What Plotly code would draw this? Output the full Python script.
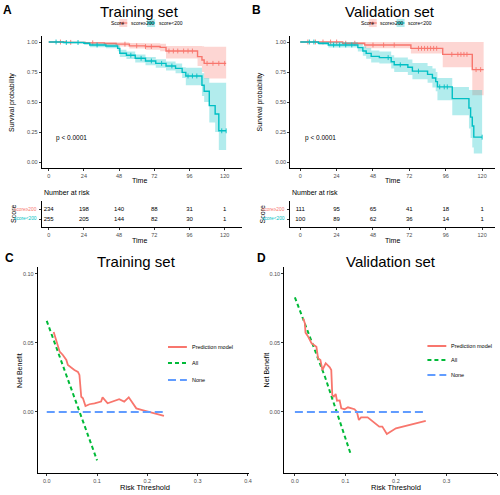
import plotly.graph_objects as go

W, H = 500, 495
def fx(p): return p / W
def fy(p): return 1 - p / H

RED = "#F8766D"; TEAL = "#00BFC4"
RED_F = "rgba(248,118,109,0.30)"; TEAL_F = "rgba(0,191,196,0.30)"
GREEN = "#00BA38"; BLUE = "#619CFF"
FONT = "Liberation Sans"

time_ticks = [0, 24, 48, 72, 96, 120]
surv_ticks = [0, 0.25, 0.5, 0.75, 1.0]
surv_ticktext = ["0.00", "0.25", "0.50", "0.75", "1.00"]
nb_ticks = [0, 0.05, 0.10]
nb_ticktext = ["0.00", "0.05", "0.10"]
thr_ticks = [0, 0.1, 0.2, 0.3, 0.4]
thr_ticktext = ["0.0", "0.1", "0.2", "0.3", "0.4"]
groups = ["score\u2265200", "score<200"]

# ---------- Training KM ----------
trA_hi_t = [0, 12, 25, 38, 46, 55, 66, 76, 80, 101.5, 104.5, 106, 121]
trA_hi_s = [1, 0.997, 0.993, 0.988, 0.982, 0.968, 0.962, 0.955, 0.925, 0.878, 0.85, 0.822, 0.822]
trA_hi_up = [1, 1, 1, 1, 0.998, 0.992, 0.99, 0.985, 0.967, 0.967, 0.965, 0.961, 0.961]
trA_hi_lo = [1, 0.99, 0.982, 0.972, 0.962, 0.945, 0.935, 0.922, 0.862, 0.80, 0.75, 0.695, 0.695]
trA_hi_cens = [8, 15, 30, 52, 60, 66, 70, 82, 85, 88, 92, 95, 98, 108, 112, 116, 120]

trA_lo_t = [0, 10, 24, 28, 39, 47, 48.5, 53, 59, 66, 73, 80, 86.5, 91, 93.5, 104.5, 106, 109.5, 113.5, 116, 121]
trA_lo_s = [1, 0.996, 0.989, 0.975, 0.967, 0.947, 0.906, 0.89, 0.864, 0.842, 0.822, 0.80, 0.78, 0.747, 0.717, 0.64, 0.59, 0.47, 0.40, 0.26, 0.26]
trA_lo_up = [1, 1, 0.998, 0.99, 0.985, 0.97, 0.935, 0.92, 0.895, 0.875, 0.857, 0.837, 0.82, 0.79, 0.785, 0.74, 0.70, 0.66, 0.66, 0.66, 0.66]
trA_lo_lo = [1, 0.99, 0.978, 0.957, 0.947, 0.922, 0.875, 0.858, 0.83, 0.807, 0.786, 0.762, 0.74, 0.70, 0.64, 0.55, 0.50, 0.33, 0.25, 0.10, 0.10]
trA_lo_cens = [5, 12, 20, 33, 56, 63, 70, 77, 84, 95, 98, 101, 118, 121]

risk_train_hi = [234, 198, 140, 88, 31, 1]
risk_train_lo = [255, 205, 144, 82, 30, 1]

# ---------- Validation KM ----------
vaB_hi_t = [0, 28, 42.5, 73, 94, 113.5, 121]
vaB_hi_s = [1, 0.99, 0.975, 0.947, 0.897, 0.77, 0.77]
vaB_hi_up = [1, 1, 1, 1, 1, 1, 1]
vaB_hi_lo = [1, 0.975, 0.947, 0.905, 0.79, 0.556, 0.556]
vaB_hi_cens = [5, 10, 15, 20, 24, 30, 36, 48, 55, 62, 78, 80, 82, 84, 86, 88, 90, 100, 104, 106, 108, 110, 116, 119]

vaB_lo_t = [0, 12, 18.5, 38, 41.3, 43.5, 46.8, 52.2, 60, 62, 71, 74, 84, 87.2, 89.4, 90.5, 100.3, 111.3, 112.4, 113.5, 114.5, 120]
vaB_lo_s = [1, 0.99, 0.975, 0.953, 0.925, 0.905, 0.88, 0.87, 0.835, 0.81, 0.79, 0.757, 0.73, 0.70, 0.67, 0.626, 0.528, 0.45, 0.374, 0.30, 0.207, 0.207]
vaB_lo_up = [1, 1, 1, 0.985, 0.965, 0.95, 0.93, 0.92, 0.89, 0.87, 0.855, 0.825, 0.80, 0.78, 0.75, 0.70, 0.626, 0.60, 0.60, 0.60, 0.60, 0.60]
vaB_lo_lo = [1, 0.975, 0.955, 0.92, 0.885, 0.86, 0.83, 0.82, 0.78, 0.75, 0.725, 0.69, 0.66, 0.62, 0.59, 0.515, 0.39, 0.28, 0.20, 0.12, 0.07, 0.07]
vaB_lo_cens = [6, 9, 22, 26, 30, 34, 58, 66, 78, 92, 95, 97, 120]

risk_val_hi = [111, 95, 65, 41, 18, 1]
risk_val_lo = [100, 89, 62, 36, 14, 1]

# ---------- DCA ----------
dcaC_thr = [0.0138, 0.019, 0.0257, 0.032, 0.039, 0.042, 0.049, 0.055, 0.062, 0.065, 0.0686, 0.072, 0.077, 0.085, 0.095, 0.1014, 0.108, 0.111, 0.121, 0.144, 0.154, 0.163, 0.178, 0.190, 0.233]
dcaC_model = [0.058, 0.051, 0.0437, 0.0413, 0.0377, 0.034, 0.0317, 0.0304, 0.029, 0.0268, 0.011, 0.0099, 0.0043, 0.0056, 0.0063, 0.007, 0.0075, 0.0106, 0.0063, 0.0092, 0.0075, 0.0106, 0.0026, 0.0014, -0.0029]
dcaC_all_thr = [0, 0.02, 0.04, 0.06, 0.08, 0.10]
dcaC_all = [0.066, 0.046, 0.026, 0.005, -0.015, -0.035]
dcaC_none_thr = [0, 0.233]
dcaC_none = [0, 0]

dcaD_thr = [0.0163, 0.0197, 0.021, 0.0262, 0.0328, 0.038, 0.0426, 0.0459, 0.0505, 0.0544, 0.057, 0.061, 0.069, 0.072, 0.074, 0.077, 0.0807, 0.0833, 0.0886, 0.0918, 0.0984, 0.105, 0.118, 0.1227, 0.1266, 0.131, 0.144, 0.167, 0.173, 0.182, 0.200, 0.259]
dcaD_model = [0.0679, 0.0643, 0.0575, 0.0546, 0.0498, 0.0486, 0.0473, 0.0389, 0.0377, 0.0304, 0.0328, 0.0353, 0.0324, 0.0304, 0.0123, 0.0111, 0.013, 0.0082, 0.0084, 0.0027, 0.002, 0.0034, 0.002, 0.0001, -0.0058, -0.0039, -0.0039, -0.0106, -0.0106, -0.0159, -0.0118, -0.0065]
dcaD_all_thr = [0, 0.02, 0.04, 0.06, 0.08, 0.10, 0.11]
dcaD_all = [0.083, 0.064, 0.045, 0.025, 0.003, -0.019, -0.030]
dcaD_none_thr = [0, 0.256]
dcaD_none = [0, 0]

fig = go.Figure()

def step_at(t, s, c):
    v = s[0]
    for ti, si in zip(t, s):
        if ti <= c:
            v = si
    return v

def km(xa, ya, t, s, up, lo, color, fillc, cens):
    fig.add_trace(go.Scatter(x=t, y=lo, xaxis=xa, yaxis=ya, mode="lines",
                             line=dict(width=0, shape="hv", color=fillc), showlegend=False, hoverinfo="skip"))
    fig.add_trace(go.Scatter(x=t, y=up, xaxis=xa, yaxis=ya, mode="lines", fill="tonexty", fillcolor=fillc,
                             line=dict(width=0, shape="hv", color=fillc), showlegend=False, hoverinfo="skip"))
    fig.add_trace(go.Scatter(x=t, y=s, xaxis=xa, yaxis=ya, mode="lines",
                             line=dict(width=1.4, shape="hv", color=color), showlegend=False))
    cy = [step_at(t, s, c) for c in cens]
    fig.add_trace(go.Scatter(x=cens, y=cy, xaxis=xa, yaxis=ya, mode="markers",
                             marker=dict(symbol="line-ns", size=3.5, line=dict(color=color, width=0.9)),
                             showlegend=False))

km("x", "y", trA_hi_t, trA_hi_s, trA_hi_up, trA_hi_lo, RED, RED_F, trA_hi_cens)
km("x", "y", trA_lo_t, trA_lo_s, trA_lo_up, trA_lo_lo, TEAL, TEAL_F, trA_lo_cens)
km("x3", "y3", vaB_hi_t, vaB_hi_s, vaB_hi_up, vaB_hi_lo, RED, RED_F, vaB_hi_cens)
km("x3", "y3", vaB_lo_t, vaB_lo_s, vaB_lo_up, vaB_lo_lo, TEAL, TEAL_F, vaB_lo_cens)

def risk(xa, ya, hi, lo):
    fig.add_trace(go.Scatter(x=time_ticks, y=[2] * len(hi), xaxis=xa, yaxis=ya, mode="text",
                             text=[str(v) for v in hi], textfont=dict(size=6, color="black", family=FONT),
                             showlegend=False))
    fig.add_trace(go.Scatter(x=time_ticks, y=[1] * len(lo), xaxis=xa, yaxis=ya, mode="text",
                             text=[str(v) for v in lo], textfont=dict(size=6, color="black", family=FONT),
                             showlegend=False))

risk("x2", "y2", risk_train_hi, risk_train_lo)
risk("x4", "y4", risk_val_hi, risk_val_lo)

def dca(xa, ya, thr, model, athr, aval, nthr, nval):
    fig.add_trace(go.Scatter(x=athr, y=aval, xaxis=xa, yaxis=ya, mode="lines",
                             line=dict(color=GREEN, width=2, dash="4px,3px"), showlegend=False))
    fig.add_trace(go.Scatter(x=thr, y=model, xaxis=xa, yaxis=ya, mode="lines",
                             line=dict(color=RED, width=1.8), showlegend=False))
    fig.add_trace(go.Scatter(x=nthr, y=nval, xaxis=xa, yaxis=ya, mode="lines",
                             line=dict(color=BLUE, width=2, dash="8px,4px"), showlegend=False))

dca("x5", "y5", dcaC_thr, dcaC_model, dcaC_all_thr, dcaC_all, dcaC_none_thr, dcaC_none)
dca("x6", "y6", dcaD_thr, dcaD_model, dcaD_all_thr, dcaD_all, dcaD_none_thr, dcaD_none)

ax_common = dict(showline=True, linecolor="black", linewidth=1, ticks="outside", ticklen=2,
                 tickcolor="#333", tickwidth=0.8, showgrid=False, zeroline=False,
                 tickfont=dict(size=5.5, color="#4D4D4D", family=FONT))

def xax(dom, rng, tv, tt, anchor):
    d = dict(ax_common); d.update(domain=[fx(dom[0]), fx(dom[1])], range=rng, tickvals=tv, ticktext=tt, anchor=anchor)
    return d
def yax(dom, rng, tv, tt, anchor, labels=True):
    d = dict(ax_common); d.update(domain=[fy(dom[1]), fy(dom[0])], range=rng, tickvals=tv, ticktext=tt,
                                  anchor=anchor, showticklabels=labels)
    return d

tt_time = [str(v) for v in time_ticks]
fig.update_layout(
    xaxis=xax((42, 243), [-4.75, 131.5], time_ticks, tt_time, "y"),
    yaxis=yax((36, 168), [-0.05, 1.05], surv_ticks, surv_ticktext, "x"),
    xaxis2=xax((42, 243), [-4.75, 131.5], time_ticks, tt_time, "y2"),
    yaxis2=yax((201, 227), [0.2, 2.8], [1, 2], ["", ""], "x2", False),
    xaxis3=xax((292, 498), [-6.6, 128.5], time_ticks, tt_time, "y3"),
    yaxis3=yax((36, 168), [-0.05, 1.05], surv_ticks, surv_ticktext, "x3"),
    xaxis4=xax((292, 498), [-6.6, 128.5], time_ticks, tt_time, "y4"),
    yaxis4=yax((201, 227), [0.2, 2.8], [1, 2], ["", ""], "x4", False),
    xaxis5=xax((38, 250), [-0.0178, 0.401], thr_ticks, thr_ticktext, "y5"),
    yaxis5=yax((267, 473), [-0.0442, 0.105], nb_ticks, nb_ticktext, "x5"),
    xaxis6=xax((286, 500), [-0.021, 0.400], thr_ticks, thr_ticktext, "y6"),
    yaxis6=yax((267, 473), [-0.0442, 0.105], nb_ticks, nb_ticktext, "x6"),
    width=W, height=H, margin=dict(l=0, r=0, t=0, b=0),
    paper_bgcolor="white", plot_bgcolor="white", showlegend=False,
)

ann = []
def txt(x, y, s, size, color="black", xanchor="center", angle=0, bold=False, family=FONT):
    ann.append(dict(x=fx(x), y=fy(y), xref="paper", yref="paper", text=("<b>%s</b>" % s) if bold else s,
                    showarrow=False, xanchor=xanchor, yanchor="middle", textangle=angle,
                    font=dict(size=size, color=color, family=family)))

# panel letters
txt(8, 10, "A", 12, bold=True); txt(258, 10, "B", 12, bold=True)
txt(10, 258, "C", 12, bold=True); txt(263, 258, "D", 12, bold=True)
# titles
txt(140, 11, "Training set", 15); txt(392, 11, "Validation set", 15)
txt(137, 261, "Training set", 15); txt(393, 261, "Validation set", 15)

shapes = []
def km_legend(x0):
    txt(x0, 23, "Score", 5, xanchor="left")
    for i, (c, f, lab) in enumerate([(RED, RED_F, groups[0]), (TEAL, TEAL_F, groups[1])]):
        kx = x0 + 10 + i * 28
        shapes.append(dict(type="rect", xref="paper", yref="paper", x0=fx(kx), x1=fx(kx + 8), y0=fy(27), y1=fy(19),
                           fillcolor=f, line=dict(width=0)))
        shapes.append(dict(type="line", xref="paper", yref="paper", x0=fx(kx), x1=fx(kx + 8), y0=fy(23), y1=fy(23),
                           line=dict(color=c, width=1.2)))
        shapes.append(dict(type="line", xref="paper", yref="paper", x0=fx(kx + 4), x1=fx(kx + 4), y0=fy(21.5), y1=fy(24.5),
                           line=dict(color=c, width=0.8)))
        txt(kx + 9.5, 23, lab, 5, xanchor="left")

km_legend(110); km_legend(361)

for (xl, cx) in [(12, 140), (262, 395)]:
    txt(xl, 102, "Survival probability", 7, angle=-90)
    txt(cx, 180, "Time", 7)
    txt(cx, 240, "Time", 7)

for (x0, lx) in [(42, 13), (292, 264)]:
    txt(x0, 192, "Number at risk", 7, xanchor="left")
    txt(lx, 214, "Score", 7, angle=-90)
    txt(x0 - 3, 209, groups[0], 4.8, color=RED, xanchor="right")
    txt(x0 - 3, 219, groups[1], 4.8, color=TEAL, xanchor="right")

txt(54, 138, "p < 0.0001", 6.5, xanchor="left")
txt(305, 138, "p < 0.0001", 6.5, xanchor="left")

# DCA labels
txt(19, 370, "Net Benefit", 7, angle=-90); txt(268, 370, "Net Benefit", 7, angle=-90)
txt(146, 487, "Risk Threshold", 7.5); txt(398, 487, "Risk Threshold", 7.5)

def dca_legend(x0, ys):
    items = [(RED, None, "Prediction model"), (GREEN, "4px,3px", "All"), (BLUE, "8px,4px", "None")]
    for (c, d, lab), y in zip(items, ys):
        ln = dict(color=c, width=2)
        if d:
            ln["dash"] = d
        shapes.append(dict(type="line", xref="paper", yref="paper", x0=fx(x0), x1=fx(x0 + 19), y0=fy(y), y1=fy(y), line=ln))
        txt(x0 + 22, y, lab, 5.5, xanchor="left")

dca_legend(169, [347, 363, 380])
dca_legend(430, [346, 360, 375])

fig.update_layout(annotations=ann, shapes=shapes)
fig.write_html("out.html", config={"displayModeBar": False},
               post_script="document.body.style.margin='0px';document.body.style.padding='0px';")
